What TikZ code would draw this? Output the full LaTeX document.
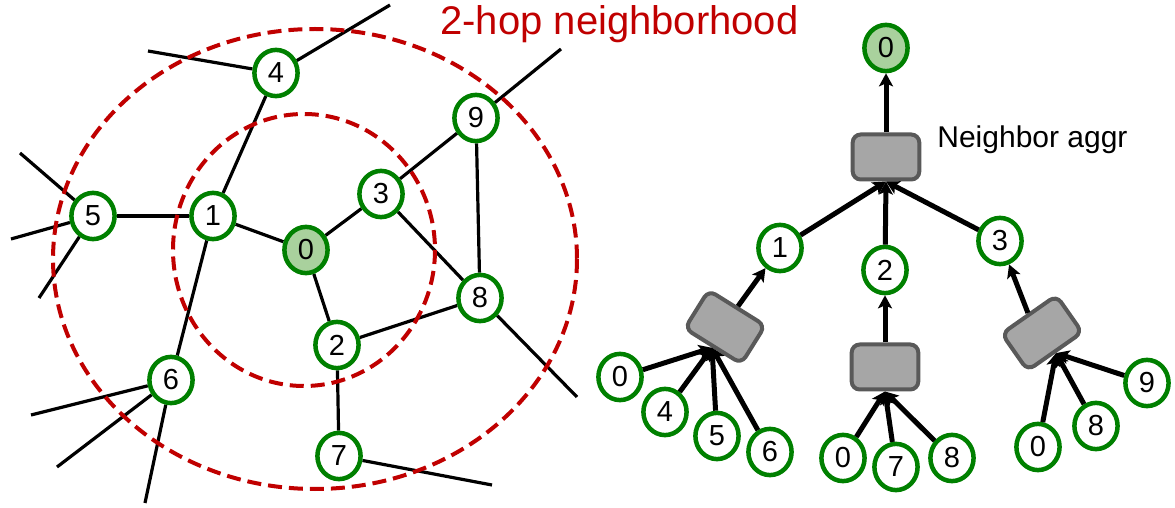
\documentclass[tikz,border=0pt]{standalone}
\usepackage{fontspec}
\setmainfont{Liberation Sans}
\usetikzlibrary{arrows.meta, shapes.geometric, backgrounds}
\definecolor{nodegreen}{RGB}{0,128,0}
\definecolor{rootfill}{RGB}{169,209,157}
\definecolor{hopred}{RGB}{192,0,0}
\definecolor{boxfill}{RGB}{166,166,166}
\definecolor{boxline}{RGB}{89,89,89}

\begin{document}
\begin{tikzpicture}[x=0.5pt, y=-0.5pt, >={Stealth[length=6.5pt, width=7pt, inset=1.5pt]},
    vert/.style={draw=nodegreen, fill=white, ellipse, line width=2.25pt, minimum width=21.6pt,
      minimum height=23.1pt, inner sep=0pt, font=\fontsize{14.5}{14.5}\selectfont},
    root/.style={vert, fill=rootfill},
    aggr/.style={draw=boxline, fill=boxfill, rectangle, rounded corners=4pt, line width=2pt,
      minimum width=33.3pt, minimum height=22.5pt, inner sep=0pt},
    edge/.style={line width=1.6pt},
    ring/.style={hopred, line width=2pt, dash pattern=on 7pt off 3.5pt},
    flow/.style={->, line width=2.5pt}]
  \useasboundingbox (0,0) rectangle (1175,508);

  % input graph
  \node[root] (n0) at (306,250) {0};
  \node[vert] (n1) at (213,216) {1};
  \node[vert] (n2) at (337,345) {2};
  \node[vert] (n3) at (381,194) {3};
  \node[vert] (n4) at (276,73) {4};
  \node[vert] (n5) at (93,216) {5};
  \node[vert] (n6) at (171,380) {6};
  \node[vert] (n7) at (339,456) {7};
  \node[vert] (n8) at (480,298) {8};
  \node[vert] (n9) at (476,118) {9};

  \coordinate (o4a) at (390,5);
  \coordinate (o4b) at (148,51);
  \coordinate (o5a) at (20,153);
  \coordinate (o5b) at (11,239);
  \coordinate (o5c) at (39,298);
  \coordinate (o9) at (561,49);
  \coordinate (o8) at (577,397);
  \coordinate (o6a) at (31,415);
  \coordinate (o6b) at (57,467);
  \coordinate (o6c) at (145,503);
  \coordinate (o7) at (492,485);

  \begin{scope}[on background layer]
    \draw[edge] (n4) -- (n1);
    \draw[edge] (n5) -- (n1);
    \draw[edge] (n1) -- (n0);
    \draw[edge] (n1) -- (n6);
    \draw[edge] (n0) -- (n3);
    \draw[edge] (n0) -- (n2);
    \draw[edge] (n3) -- (n9);
    \draw[edge] (n3) -- (n8);
    \draw[edge] (n9) -- (n8);
    \draw[edge] (n2) -- (n8);
    \draw[edge] (n2) -- (n7);
    \draw[edge] (n4) -- (o4a);
    \draw[edge] (n4) -- (o4b);
    \draw[edge] (n5) -- (o5a);
    \draw[edge] (n5) -- (o5b);
    \draw[edge] (n5) -- (o5c);
    \draw[edge] (n9) -- (o9);
    \draw[edge] (n8) -- (o8);
    \draw[edge] (n6) -- (o6a);
    \draw[edge] (n6) -- (o6b);
    \draw[edge] (n6) -- (o6c);
    \draw[edge] (n7) -- (o7);
    % hop rings
    \draw[ring] (304,250) ellipse [x radius=131, y radius=136];
    \draw[ring] (315,259) ellipse [x radius=262, y radius=230];
  \end{scope}

  \node[anchor=base west, inner sep=0pt, text=hopred, font=\fontsize{20}{24}\selectfont] (title) at (440,35) {2-hop neighborhood};

  % computation tree
  \node[root] (r0) at (886,48) {0};
  \node[aggr] (A) at (886,157) {};
  \node[anchor=base west, inner sep=0pt, font=\fontsize{15}{18}\selectfont] (lab) at (937,148) {Neighbor aggr};
  \node[vert] (t1) at (780,248) {1};
  \node[vert] (t2) at (885,270) {2};
  \node[vert] (t3) at (1000,241) {3};
  \node[aggr, rotate=-32] (B1) at (725,327) {};
  \node[aggr] (B2) at (885,367) {};
  \node[aggr, rotate=35] (B3) at (1042,333) {};

  \node[vert] (l10) at (620,377) {0};
  \node[vert] (l14) at (665,412) {4};
  \node[vert] (l15) at (717,436) {5};
  \node[vert] (l16) at (770,452) {6};
  \node[vert] (l20) at (843,458) {0};
  \node[vert] (l27) at (896,467) {7};
  \node[vert] (l28) at (952,458) {8};
  \node[vert] (l30) at (1038,447) {0};
  \node[vert] (l38) at (1096,426) {8};
  \node[vert] (l39) at (1147,383) {9};

  \draw[flow] (A) -- (r0);
  \draw[flow] (t1) -- (A.south);
  \draw[flow] (t2) -- (A.south);
  \draw[flow] (t3) -- (A.south);
  \draw[flow] (B1.north) -- (t1);
  \draw[flow] (B2.north) -- (t2);
  \draw[flow] (B3.north) -- (t3);
  \foreach \l in {l10, l14, l15, l16}
    \draw[flow] (\l) -- (B1.south);
  \foreach \l in {l20, l27, l28}
    \draw[flow] (\l) -- (B2.south);
  \foreach \l in {l30, l38, l39}
    \draw[flow] (\l) -- (B3.south);
\end{tikzpicture}
\end{document}
